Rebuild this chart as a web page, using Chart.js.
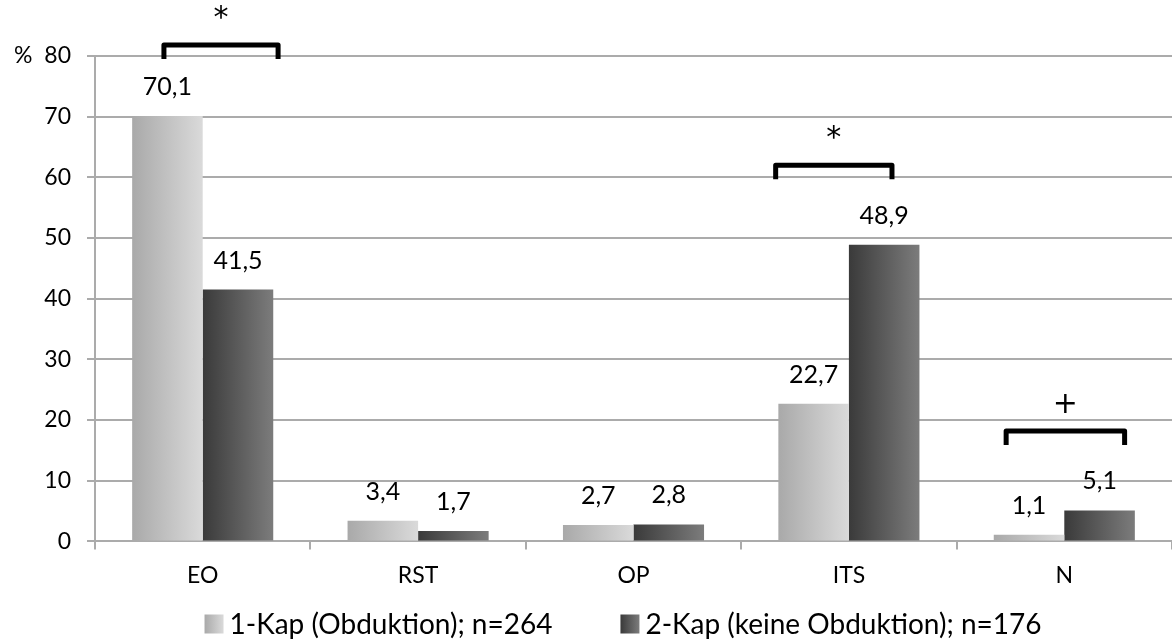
<!DOCTYPE html>
<html>
<head>
<meta charset="utf-8">
<script src="https://cdn.jsdelivr.net/npm/chart.js@4.4.1/dist/chart.umd.min.js"></script>
<style>
  html, body { margin: 0; padding: 0; background: #fff; }
  #wrap { width: 1172px; height: 643px; }
</style>
</head>
<body>
<div id="wrap"><canvas id="chart"></canvas></div>
<script>
// data
var categories = ['EO', 'RST', 'OP', 'ITS', 'N'];
var kap1 = [70.1, 3.4, 2.7, 22.7, 1.1];
var kap2 = [41.5, 1.7, 2.8, 48.9, 5.1];
var seriesNames = ['1-Kap (Obduktion); n=264', '2-Kap (keine Obduktion); n=176'];
var yTicks = [0, 10, 20, 30, 40, 50, 60, 70, 80];
// significance markers: category index, symbol, bracket top value
var sigCategory = [0, 3, 4];
var sigSymbol = ['*', '*', '+'];
var sigLevel = [81.8, 62, 18.2];

var FONT = 'Lato, "Open Sans", sans-serif';
var CAT_PCT = 0.655;
var GRAD = [['#a9a9a9', '#dadada'], ['#3a3a3a', '#7c7c7c']];

function makeGrad(ctx, x0, w, ds) {
    var g = ctx.createLinearGradient(x0, 0, x0 + w, 0);
    g.addColorStop(0, GRAD[ds][0]);
    g.addColorStop(1, GRAD[ds][1]);
    return g;
}

function barGradient(c, ds) {
    var chart = c.chart;
    var x = chart.scales.x;
    if (!x || !chart.chartArea) return GRAD[ds][0];
    var center = x.getPixelForValue(c.dataIndex);
    var w = (x.width / categories.length) * CAT_PCT / 2;
    var x0 = ds === 0 ? center - w : center;
    return makeGrad(chart.ctx, x0, w, ds);
}

var valueLabels = {
    id: 'valueLabels',
    afterDatasetsDraw: function(chart) {
        var ctx = chart.ctx;
        ctx.save();
        ctx.font = '25px ' + FONT;
        ctx.fillStyle = '#000';
        ctx.textAlign = 'center';
        ctx.textBaseline = 'alphabetic';
        chart.data.datasets.forEach(function(ds, di) {
            chart.getDatasetMeta(di).data.forEach(function(bar, i) {
                var txt = ds.data[i].toFixed(1).replace('.', ',');
                ctx.fillText(txt, bar.x, bar.y - 21);
            });
        });
        ctx.restore();
    }
};

var brackets = {
    id: 'brackets',
    afterDraw: function(chart) {
        var ctx = chart.ctx;
        var x = chart.scales.x, y = chart.scales.y;
        var cw = x.width / categories.length;
        var offs = [[-0.18, 0.35], [-0.34, 0.2], [-0.27, 0.28]];
        ctx.save();
        sigCategory.forEach(function(ci, k) {
            var c = x.getPixelForValue(ci);
            var l = c + offs[k][0] * cw, r = c + offs[k][1] * cw;
            var top = y.getPixelForValue(sigLevel[k]);
            var bot = top + 14;
            ctx.strokeStyle = '#000';
            ctx.lineWidth = 5;
            ctx.lineJoin = 'round';
            ctx.beginPath();
            ctx.moveTo(l, bot);
            ctx.lineTo(l, top);
            ctx.lineTo(r, top);
            ctx.lineTo(r, bot);
            ctx.stroke();
            ctx.fillStyle = '#000';
            ctx.font = '30px "DejaVu Sans", sans-serif';
            ctx.textAlign = 'center';
            ctx.textBaseline = 'middle';
            ctx.fillText(sigSymbol[k], (l + r) / 2, top - 26);
        });

        // legend at the bottom
        ctx.font = '28px ' + FONT;
        ctx.textBaseline = 'middle';
        ctx.textAlign = 'left';
        var box = 19, gapText = 6, gapItem = 68;
        var widths = seriesNames.map(function(s) { return ctx.measureText(s).width; });
        var total = box * 2 + gapText * 2 + widths[0] + widths[1] + gapItem;
        var lx = 623 - total / 2, ly = 624;
        seriesNames.forEach(function(s, i) {
            ctx.fillStyle = makeGrad(ctx, lx, box, i);
            ctx.fillRect(lx, ly - box / 2, box, box);
            ctx.fillStyle = '#000';
            ctx.fillText(s, lx + box + gapText, ly + 1);
            lx += box + gapText + widths[i] + gapItem;
        });
        ctx.restore();
    }
};

var ctx1 = document.getElementById('chart').getContext('2d');
var chart = new Chart(ctx1, {
    type: 'bar',
    data: {
        labels: categories,
        datasets: [{
            label: seriesNames[0],
            data: kap1,
            backgroundColor: function(c) { return barGradient(c, 0); },
            borderWidth: 0
        }, {
            label: seriesNames[1],
            data: kap2,
            backgroundColor: function(c) { return barGradient(c, 1); },
            borderWidth: 0
        }]
    },
    options: {
        responsive: true,
        maintainAspectRatio: false,
        animation: false,
        layout: { padding: { top: 56, left: 0, right: 0, bottom: 42 } },
        datasets: {
            bar: { categoryPercentage: CAT_PCT, barPercentage: 1 }
        },
        scales: {
            x: {
                grid: { drawOnChartArea: false, tickLength: 8, color: '#ababab', lineWidth: 2 },
                border: { color: '#ababab', width: 2 },
                ticks: { color: '#000', font: { family: FONT, size: 23 }, padding: 12 }
            },
            y: {
                min: 0, max: 80,
                afterFit: function(s) { s.width = 95; },
                afterBuildTicks: function(s) { s.ticks = yTicks.map(function(v) { return { value: v }; }); },
                grid: { color: '#ababab', lineWidth: 2, tickLength: 8 },
                border: { color: '#ababab', width: 2 },
                ticks: {
                    color: '#000',
                    font: { family: FONT, size: 23 },
                    padding: 16,
                    callback: function(v) { return v === 80 ? '%  80' : String(v); }
                }
            }
        },
        plugins: {
            legend: { display: false },
            tooltip: { enabled: false }
        }
    },
    plugins: [valueLabels, brackets]
});
</script>
</body>
</html>
